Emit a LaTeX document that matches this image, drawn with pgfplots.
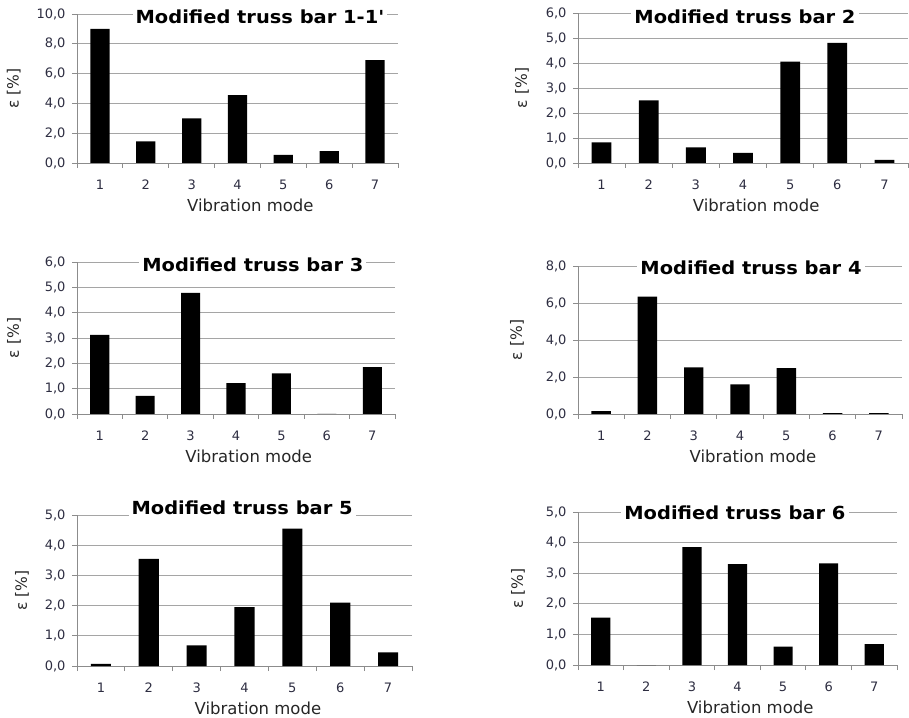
\documentclass[border=0pt]{standalone}
\usepackage{pgfplots}
\pgfplotsset{compat=1.18}
\usepackage{fontspec}
\setmainfont{DejaVu Sans}
\newfontfamily\titlefont[FakeStretch=1.08]{DejaVu Sans}
\definecolor{tickcol}{RGB}{45,45,65}
\definecolor{gridcol}{RGB}{165,165,165}
\definecolor{axcol}{RGB}{140,140,140}
\newcommand{\tl}{\fontsize{13}{13}\selectfont}
\newcommand{\lb}{\fontsize{16.5}{16.5}\selectfont}
\newcommand{\lby}{\fontsize{15.5}{15.5}\selectfont}
\pgfplotsset{
  trussbar/.style={
    scale only axis,
    anchor=south west,
    xmin=0.5, xmax=7.5, ymin=0,
    axis lines*=left,
    axis line style={draw=axcol, line width=0.8pt},
    xtick={1,...,7}, xticklabels={\tl 1,\tl 2,\tl 3,\tl 4,\tl 5,\tl 6,\tl 7},
    major x tick style={draw=none},
    minor xtick={0.5,1.5,...,7.5},
    minor x tick style={draw=axcol, line width=0.8pt},
    ytick style={draw=axcol, line width=0.8pt},
    tick align=outside,
    major tick length=5pt, minor tick length=5pt,
    ymajorgrids, grid style={draw=gridcol, line width=0.8pt},
    ybar, bar width=0.42,
    cycle list={{fill=black, draw=none}},
    tick label style={text=tickcol},
    xticklabel style={yshift=-8pt},
    yticklabel style={xshift=-3pt},
    yticklabel={\tl\pgfmathprintnumber[fixed, fixed zerofill, precision=1, use comma, assume math mode=true]{\tick}},
    xlabel={\lb Vibration mode}, ylabel={\lby ε [\%]},
    xlabel style={text=black!85, at={(axis description cs:0.54,0)}, anchor=center, yshift=-42pt},
    ylabel style={text=black!85},
    title style={font=\titlefont\bfseries\fontsize{18}{18}\selectfont, fill=white, inner xsep=3pt, inner ysep=1pt, anchor=center},
  }
}
\begin{document}
\begin{tikzpicture}
\useasboundingbox (0,0) rectangle (909pt,717pt);
% Panel 1
\begin{axis}[trussbar, at={(77pt,554pt)}, width=321pt, height=149pt,
  ymax=10, ytick={0,2,...,10},
  ylabel style={at={(axis description cs:-0.197,0.5)}, anchor=center},
  title={Modified truss bar 1-1'}, title style={at={(rel axis cs:0.57,1)}, yshift=-9pt}]
\addplot[fill=black, draw=none] coordinates {(1,9.0) (2,1.45) (3,3.0) (4,4.55) (5,0.55) (6,0.8) (7,6.9)};
\end{axis}
% Panel 2
\begin{axis}[trussbar, at={(578pt,554pt)}, width=330pt, height=150pt,
  ymax=6, ytick={0,1,...,6},
  ylabel style={at={(axis description cs:-0.17,0.5)}, anchor=center},
  title={Modified truss bar 2}, title style={at={(rel axis cs:0.506,1)}, yshift=-10pt}]
\addplot[fill=black, draw=none] coordinates {(1,0.82) (2,2.5) (3,0.62) (4,0.4) (5,4.05) (6,4.8) (7,0.12)};
\end{axis}
% Panel 3
\begin{axis}[trussbar, at={(77pt,303pt)}, width=318pt, height=152pt,
  ymax=6, ytick={0,1,...,6},
  ylabel style={at={(axis description cs:-0.198,0.5)}, anchor=center},
  title={Modified truss bar 3}, title style={at={(rel axis cs:0.553,1)}, yshift=-9pt}]
\addplot[fill=black, draw=none] coordinates {(1,3.12) (2,0.72) (3,4.78) (4,1.22) (5,1.6) (6,0) (7,1.85)};
\end{axis}
% Panel 4
\begin{axis}[trussbar, at={(578pt,303pt)}, width=324pt, height=148pt,
  ymax=8, ytick={0,2,...,8},
  ylabel style={at={(axis description cs:-0.188,0.5)}, anchor=center},
  title={Modified truss bar 4}, title style={at={(rel axis cs:0.534,1)}, yshift=-8pt}]
\addplot[fill=black, draw=none] coordinates {(1,0.15) (2,6.35) (3,2.52) (4,1.6) (5,2.48) (6,0.05) (7,0.05)};
\end{axis}
% Panel 5
\begin{axis}[trussbar, at={(77pt,51pt)}, width=335pt, height=151pt,
  ymax=5, ytick={0,1,...,5},
  ylabel style={at={(axis description cs:-0.164,0.5)}, anchor=center},
  title={Modified truss bar 5}, title style={at={(rel axis cs:0.493,1)}, yshift=1pt}]
\addplot[fill=black, draw=none] coordinates {(1,0.07) (2,3.55) (3,0.68) (4,1.95) (5,4.55) (6,2.1) (7,0.45)};
\end{axis}
% Panel 6
\begin{axis}[trussbar, at={(578pt,52pt)}, width=319pt, height=153pt,
  ymax=5, ytick={0,1,...,5},
  ylabel style={at={(axis description cs:-0.188,0.5)}, anchor=center},
  title={Modified truss bar 6}, title style={at={(rel axis cs:0.492,1)}, yshift=-7pt}]
\addplot[fill=black, draw=none] coordinates {(1,1.55) (2,0) (3,3.85) (4,3.3) (5,0.6) (6,3.32) (7,0.68)};
\end{axis}
\end{tikzpicture}
\end{document}
